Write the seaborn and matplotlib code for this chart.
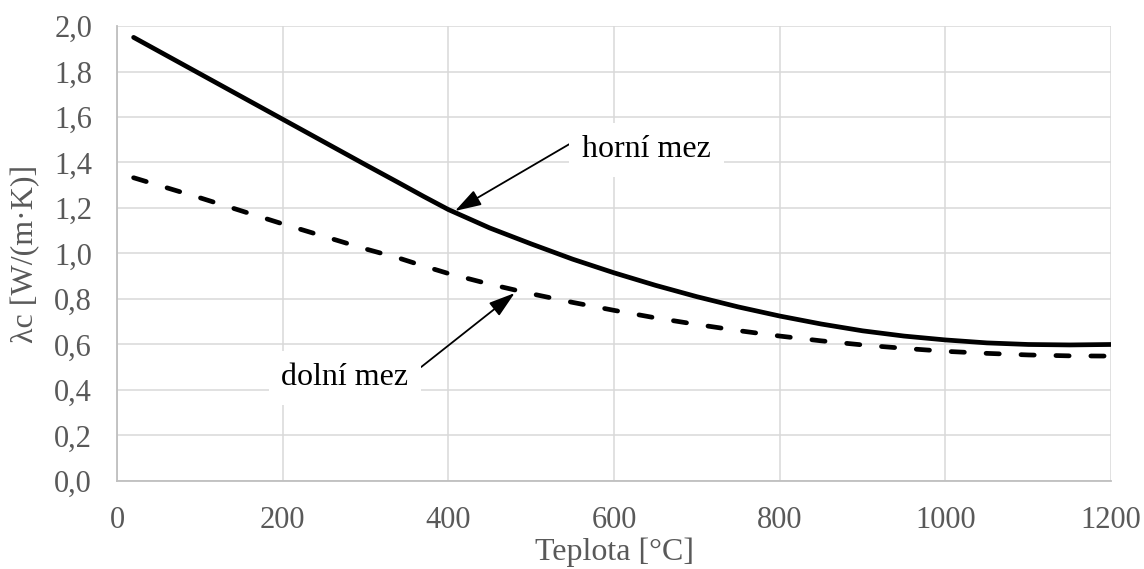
import matplotlib
matplotlib.use("Agg")
import matplotlib.pyplot as plt
import seaborn as sns
import pandas as pd
from matplotlib.ticker import FuncFormatter

# Data
temperature = [20, 100, 200, 300, 340, 370, 400, 450, 500, 550, 600, 650, 700, 750, 800,
               850, 900, 950, 1000, 1050, 1100, 1150, 1200]
upper_limit = [1.95, 1.79, 1.59, 1.39, 1.311, 1.251, 1.193, 1.112, 1.042, 0.975, 0.915, 0.86,
               0.81, 0.765, 0.725, 0.69, 0.66, 0.637, 0.62, 0.607, 0.60, 0.598, 0.60]
lower_limit = [1.333, 1.245, 1.13, 1.02, 0.98, 0.945, 0.912, 0.865, 0.823, 0.785, 0.75,
               0.717, 0.688, 0.661, 0.637, 0.616, 0.598, 0.583, 0.57, 0.561, 0.554, 0.55, 0.549]

x_ticks = [0, 200, 400, 600, 800, 1000, 1200]
y_ticks = [0.0, 0.2, 0.4, 0.6, 0.8, 1.0, 1.2, 1.4, 1.6, 1.8, 2.0]

sns.set_theme(style="white")
plt.rcParams['font.family'] = ['Liberation Serif', 'DejaVu Serif']

df = pd.DataFrame({"T": temperature, "upper": upper_limit, "lower": lower_limit})

fig = plt.figure(figsize=(11.44, 5.69), dpi=100)
ax = fig.add_axes([0.1023, 0.1547, 0.8690, 0.7996])

sns.lineplot(data=df, x="T", y="upper", ax=ax, color="black", linewidth=3.4, zorder=3)
sns.lineplot(data=df, x="T", y="lower", ax=ax, color="black", linewidth=3.4, zorder=3)
solid, dashed = ax.get_lines()[-2], ax.get_lines()[-1]
solid.set_solid_capstyle("round")
solid.set_solid_joinstyle("round")
dashed.set_dashes((2.8, 4.6))
dashed.set_dash_capstyle("round")

ax.set_xlim(0, 1200)
ax.set_ylim(0, 2.0)
ax.set_xticks(x_ticks)
ax.set_yticks(y_ticks)
ax.yaxis.set_major_formatter(FuncFormatter(lambda v, p: f"{v:.1f}".replace(".", ",")))

ax.grid(True, color="#d9d9d9", linewidth=1.1)
ax.set_axisbelow(True)
for s in ["top", "right"]:
    ax.spines[s].set_visible(False)
for s in ["left", "bottom"]:
    ax.spines[s].set_color("#bfbfbf")
    ax.spines[s].set_linewidth(1.3)

ax.tick_params(axis="both", which="both", length=0, labelsize=22, labelcolor="#595959")
ax.tick_params(axis="x", pad=18)
ax.tick_params(axis="y", pad=18)

ax.set_xlabel("Teplota [°C]", fontsize=23, color="#595959", labelpad=2)
ax.set_ylabel("λc [W/(m·K)]", fontsize=23, color="#595959", labelpad=10)

arrow = dict(arrowstyle="-|>,head_length=0.7,head_width=0.22", color="black",
             lw=1.3, shrinkA=0, shrinkB=0)
ax.annotate("horní mez", xy=(408, 1.187), xytext=(639, 1.455),
            fontsize=23, color="black", ha="center", va="center",
            bbox=dict(boxstyle="square,pad=0.4", facecolor="white", edgecolor="none"),
            arrowprops=dict(arrow, relpos=(-0.08, 0.75)), zorder=4)
ax.annotate("dolní mez", xy=(480, 0.826), xytext=(275, 0.453),
            fontsize=23, color="black", ha="center", va="center",
            bbox=dict(boxstyle="square,pad=0.4", facecolor="white", edgecolor="none"),
            arrowprops=dict(arrow, relpos=(1.05, 0.7)), zorder=4)

fig.savefig("out.png", dpi=100)
